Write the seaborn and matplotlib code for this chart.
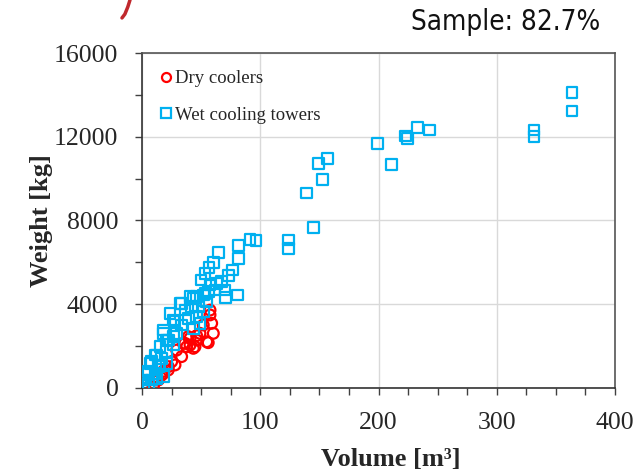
import matplotlib
matplotlib.use("Agg")
import matplotlib.pyplot as plt
from matplotlib.ticker import MultipleLocator
from matplotlib.lines import Line2D
import seaborn as sns
import pandas as pd

# ---- data ----
dry_volume = [0.5, 2.5, 9.6, 11.0, 13.8, 16.7, 18.0, 22.2, 25.1, 27.9, 29.3,
              33.5, 34.9, 36.3, 37.8, 39.1, 40.6, 40.6, 43.4, 44.8, 46.2,
              46.2, 49.0, 51.8, 54.7, 56.0, 57.5, 57.5, 58.9, 60.3, 22.2, 18.0]
dry_weight = [0, 140, 60, 380, 380, 620, 700, 860, 1260, 1100, 1810,
              1500, 2135, 2135, 1970, 2450, 2370, 2050, 1895, 1970, 2290,
              2500, 2610, 3010, 2210, 2165, 3490, 3720, 3090, 2610, 1020, 800]

wet_volume = [363.7, 363.7, 331.4, 331.4, 243.4, 233.0, 222.9, 224.6, 211.0, 199.0,
              157.0, 149.4, 152.7, 139.2, 145.1, 124.0, 124.0,
              91.3, 96.4, 81.4, 81.4, 76.6, 73.0, 70.2, 80.9, 70.7, 64.5, 60.3,
              56.6, 53.3, 49.9, 57.5, 63.1, 67.4, 56.0, 61.7, 51.8, 54.7, 46.2,
              53.3, 32.1, 23.7, 42.0, 36.3, 51.8, 46.2, 39.1, 26.5, 33.5, 49.0,
              43.4, 18.0, 40.6, 47.6, 27.9, 29.3, 18.0, 22.2, 33.5, 43.4,
              26.5, 20.9, 26.5, 15.2, 20.9, 11.0, 16.7, 6.8, 13.8, 20.9,
              4.0, 11.0, 2.5, 8.2, 1.0, 5.3, 12.4, 15.2, 8.2, 18.0, 5.3, 0.5, 12.4]
wet_weight = [14100, 13230, 12320, 12000, 12320, 12430, 12040, 11900, 10670, 11690,
              10950, 10710, 9950, 9310, 7680, 7070, 6670,
              7100, 7040, 6820, 6180, 5640, 5360, 4680, 4440, 4330, 6460, 5990,
              5760, 5480, 5160, 4920, 5000, 5080, 4600, 4680, 4440, 4120, 4360,
              4520, 4040, 3570, 3880, 3720, 3640, 3410, 3330, 3250, 3010, 3090,
              2850, 2770, 4360, 3880, 3170, 2610, 2610, 2290, 4040, 4280,
              2450, 2290, 2050, 1970, 1730, 1580, 1420, 1180, 1020, 1180,
              700, 700, 380, 380, 0, 140, 460, 1100, 1260, 540, 780, 380, 1580]

series_names = ["Dry coolers", "Wet cooling towers"]
series_colors = ["#ff0000", "#00b0f0"]
x_ticks = [0, 100, 200, 300, 400]
y_ticks = [0, 4000, 8000, 12000, 16000]

dry_df = pd.DataFrame({"Volume": dry_volume, "Weight": dry_weight})
wet_df = pd.DataFrame({"Volume": wet_volume, "Weight": wet_weight})

sns.set_style("white")
serif = ["Liberation Serif", "DejaVu Serif"]
plt.rcParams["font.family"] = serif

fig = plt.figure(figsize=(6.42, 4.72), dpi=100)
ax = fig.add_axes([0.2212, 0.178, 0.7368, 0.7097])

sns.scatterplot(data=dry_df, x="Volume", y="Weight", marker="o", s=60,
                color=series_colors[0], ax=ax, zorder=3)
sns.scatterplot(data=wet_df, x="Volume", y="Weight", marker="s", s=60,
                color=series_colors[1], ax=ax, zorder=4)
for coll, col in zip(ax.collections, series_colors):
    coll.set_facecolor("none")
    coll.set_edgecolor(col)
    coll.set_linewidth(1.6)

ax.set_xlim(0, 400)
ax.set_ylim(0, 16000)
ax.set_xticks(x_ticks)
ax.set_yticks(y_ticks)
ax.xaxis.set_minor_locator(MultipleLocator(25))
ax.yaxis.set_minor_locator(MultipleLocator(2000))
ax.tick_params(which="both", direction="out", length=5, width=1.0,
               color="#404040", bottom=True, left=True, top=False, right=False)
ax.tick_params(axis="x", which="major", labelsize=18.5, pad=12)
ax.tick_params(axis="y", which="major", labelsize=18.5, pad=12)
for lab in ax.get_xticklabels() + ax.get_yticklabels():
    lab.set_family(serif)

ax.grid(True, which="major", color="#d9d9d9", linewidth=1.0)
ax.set_axisbelow(True)
for sp in ax.spines.values():
    sp.set_visible(True)
    sp.set_color("#555555")
    sp.set_linewidth(1.2)
ax.spines["left"].set_color("#333333")
ax.spines["bottom"].set_color("#333333")

ax.set_xlabel("Volume [m³]", fontsize=19, fontweight="bold", family=serif)
ax.set_ylabel("Weight [kg]", fontsize=19, fontweight="bold", family=serif)
ax.xaxis.set_label_coords(0.526, -0.214, transform=ax.transAxes)
ax.yaxis.set_label_coords(-0.212, 0.5, transform=ax.transAxes)
ax.xaxis.label.set_va("center")
ax.yaxis.label.set_va("center")

handles = [
    Line2D([], [], linestyle="none", marker="o", markersize=6.5,
           markerfacecolor="none", markeredgecolor=series_colors[0], markeredgewidth=1.6),
    Line2D([], [], linestyle="none", marker="s", markersize=6.5,
           markerfacecolor="none", markeredgecolor=series_colors[1], markeredgewidth=1.6),
]
ax.legend(handles, series_names, loc="upper left", frameon=False,
          prop={"family": serif, "size": 13.5}, handlelength=0.5,
          handletextpad=0.2, labelspacing=1.05, borderaxespad=0.4,
          bbox_to_anchor=(0.01, 0.994))

fig.text(0.935, 0.953, "Sample: 82.7%", ha="right", va="center",
         fontsize=20, family=["DejaVu Sans"], stretch="condensed", color="#111111")

# small red decorative arc at top-left (part of the source slide)
fig.add_artist(Line2D([0.2025, 0.199, 0.1945, 0.190], [1.0, 0.985, 0.97, 0.962],
                      color="#c0282d", linewidth=2.5, transform=fig.transFigure))

fig.savefig("out.png", dpi=100)
